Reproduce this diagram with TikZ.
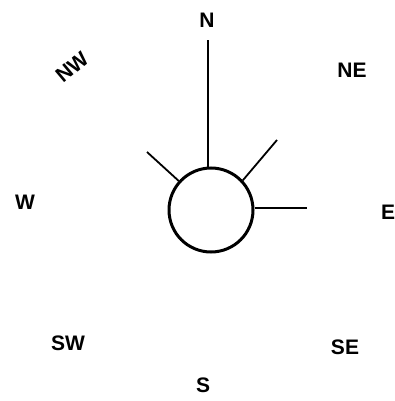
\documentclass[tikz,border=0pt]{standalone}
\usepackage{fontspec}
\setsansfont{Liberation Sans}
\usepackage{tikz}
\usetikzlibrary{positioning}
\tikzset{
  % ---- compass parts --------------------------------------------------
  hubring/.style={circle, draw=black, line width=3pt, minimum size=84pt,
    inner sep=0pt},
  spoke/.style={draw=black, line width=1.8pt},
  % ---- compass points -------------------------------------------------
  point/.style={font=\sffamily\bfseries\fontsize{21}{24}\selectfont,
    inner sep=0pt},
}
\begin{document}
\begin{tikzpicture}[x=1pt, y=-1pt]

\useasboundingbox (0,0) rectangle (395,401);

% ---- hub and spokes ----------------------------------------------------
\node[hubring] (hub) at (211,210) {};
\coordinate (tipN)  at (208,40);
\coordinate (tipNW) at (147,152);
\coordinate (tipNE) at (277,140);
\coordinate (tipE)  at (307,208);
\draw[spoke] (hub.north -| tipN) -- (tipN);
\draw[spoke] (hub.138) -- (tipNW);
\draw[spoke] (hub.43) -- (tipNE);
\draw[spoke] (hub.east |- tipE) -- (tipE);

% ---- compass points ----------------------------------------------------
\node[point] (n)  at (207,20)  {N};
\node[point, rotate=40] (nw) at (72,67) {NW};
\node[point] (ne) at (352,70)  {NE};
\node[point] (w)  at (25,202)  {W};
\node[point] (e)  at (388,212) {E};
\node[point] (sw) at (68,343)  {SW};
\node[point] (se) at (345,347) {SE};
\node[point] (s)  at (203,385) {S};

\end{tikzpicture}
\end{document}
